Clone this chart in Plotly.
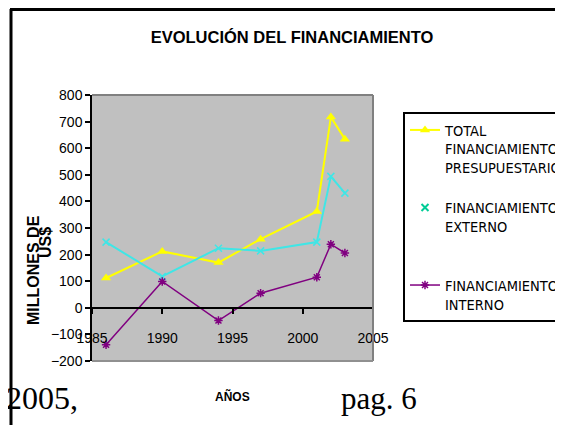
import plotly.graph_objects as go

# ---- data ----
years = [1986, 1990, 1994, 1997, 2001, 2002, 2003]
total = [112, 212, 170, 258, 362, 717, 634]
externo = [247, 118, 224, 214, 247, 494, 431]
interno = [-139, 99, -48, 55, 115, 239, 206]

names = ["TOTAL<br>FINANCIAMIENTO<br>PRESUPUESTARIO",
         "FINANCIAMIENTO<br>EXTERNO<br> ",
         "FINANCIAMIENTO<br>INTERNO"]
title_text = "EVOLUCIÓN DEL FINANCIAMIENTO"
x_title = "AÑOS"
y_title_1 = "MILLONES DE"
y_title_2 = "US$"

YELLOW = "#FFFF00"
CYAN = "#3FE6E6"
PURPLE = "#800080"
SANS = "Liberation Sans, Arial"
COND = "DejaVu Sans Condensed, Liberation Sans, Arial"
SERIF = "Liberation Serif, Times New Roman"

# the page body adds an 8 px offset
OFF = 8
W, H = 563, 425
L, T = 84, 87
pw, ph = 281, 266
R, B = W - L - pw, H - T - ph


def px(sx):
    return (sx - OFF - L) / pw


def py(sy):
    return (H - B - (sy - OFF)) / ph


fig = go.Figure()
fig.add_trace(go.Scatter(x=years, y=total, mode="lines+markers", name=names[0],
                         legendgroup="g1",
                         line=dict(color=YELLOW, width=2),
                         marker=dict(symbol="triangle-up", size=9, color=YELLOW)))
fig.add_trace(go.Scatter(x=years, y=externo, mode="lines+markers", showlegend=False,
                         legendgroup="g2",
                         line=dict(color=CYAN, width=2),
                         marker=dict(symbol="x-thin-open", size=7,
                                     line=dict(color=CYAN, width=1.5))))
fig.add_trace(go.Scatter(x=[None], y=[None], mode="markers", name=names[1],
                         legendgroup="g2",
                         marker=dict(symbol="x-thin-open", size=7,
                                     line=dict(color=CYAN, width=2))))
fig.add_trace(go.Scatter(x=years, y=interno, mode="lines+markers", name=names[2],
                         legendgroup="g3",
                         line=dict(color=PURPLE, width=1.5),
                         marker=dict(symbol="asterisk-open", size=7,
                                     line=dict(color=PURPLE, width=1.5))))

fig.update_layout(
    width=W, height=H,
    margin=dict(l=L, r=R, t=T, b=B, autoexpand=False),
    paper_bgcolor="white", plot_bgcolor="#C0C0C0",
    font=dict(family=SANS, color="black", size=14),
    title=dict(text=f"<b>{title_text}</b>", x=(292 - OFF) / W, xanchor="center",
               y=1 - (37 - OFF) / H, yanchor="middle",
               font=dict(family=SANS, size=16.5, color="black")),
    showlegend=True,
    legend=dict(x=px(403), y=py(112), xanchor="left", yanchor="top",
                bordercolor="black", borderwidth=2, bgcolor="white",
                font=dict(family=COND, size=14.5, color="black"),
                valign="top", tracegroupgap=18, traceorder="grouped"),
    xaxis=dict(range=[1985, 2005], tick0=1985, dtick=5, anchor="free", position=0.2,
               showline=True, linecolor="black", linewidth=1.5,
               ticks="outside", ticklen=5, tickcolor="black", tickwidth=1.5,
               showgrid=False, zeroline=False, ticklabelstandoff=13,
               tickfont=dict(family=SANS, size=14, color="black")),
    yaxis=dict(range=[-200, 800], tick0=0, dtick=100,
               showline=True, linecolor="black", linewidth=1.5,
               ticks="outside", ticklen=5, tickcolor="black", tickwidth=1.5,
               showgrid=False, zeroline=False,
               tickfont=dict(family=SANS, size=14, color="black")),
)

# plot area border (top, right, bottom)
for x0, y0, x1, y1, c in [(0, 1, 1, 1, "#808080"), (1, 0, 1, 1, "#808080"),
                          (0, 0, 1, 0, "#909090")]:
    fig.add_shape(type="line", xref="paper", yref="paper", x0=x0, y0=y0, x1=x1, y1=y1,
                  line=dict(color=c, width=2), layer="above")

# outer frame of the chart object
fig.add_shape(type="line", xref="paper", yref="paper", x0=px(11), x1=px(11),
              y0=py(9), y1=py(440), line=dict(color="black", width=3))
fig.add_shape(type="line", xref="paper", yref="paper", x0=px(10), x1=px(580),
              y0=py(9.5), y1=py(9.5), line=dict(color="black", width=3))

# axis titles
fig.add_annotation(text=f"<b>{y_title_1}</b>", xref="paper", yref="paper",
                   x=px(33), y=py(270), xanchor="center", yanchor="middle",
                   textangle=-90, showarrow=False,
                   font=dict(family=SANS, size=16, color="black"))
fig.add_annotation(text=f"<b>{y_title_2}</b>", xref="paper", yref="paper",
                   x=px(45), y=py(243), xanchor="center", yanchor="middle",
                   textangle=-90, showarrow=False,
                   font=dict(family=SANS, size=16, color="black"))
fig.add_annotation(text=f"<b>{x_title}</b>", xref="paper", yref="paper",
                   x=px(232), y=py(396), xanchor="center", yanchor="middle",
                   showarrow=False,
                   font=dict(family=SANS, size=12, color="black"))

# surrounding document text
fig.add_annotation(text="2005,", xref="paper", yref="paper", x=px(4), y=py(398),
                   xanchor="left", yanchor="middle", showarrow=False,
                   font=dict(family=SERIF, size=32, color="black"))
fig.add_annotation(text="pag. 6", xref="paper", yref="paper", x=px(339), y=py(398),
                   xanchor="left", yanchor="middle", showarrow=False,
                   font=dict(family=SERIF, size=31, color="black"))

fig.write_html("out.html")
